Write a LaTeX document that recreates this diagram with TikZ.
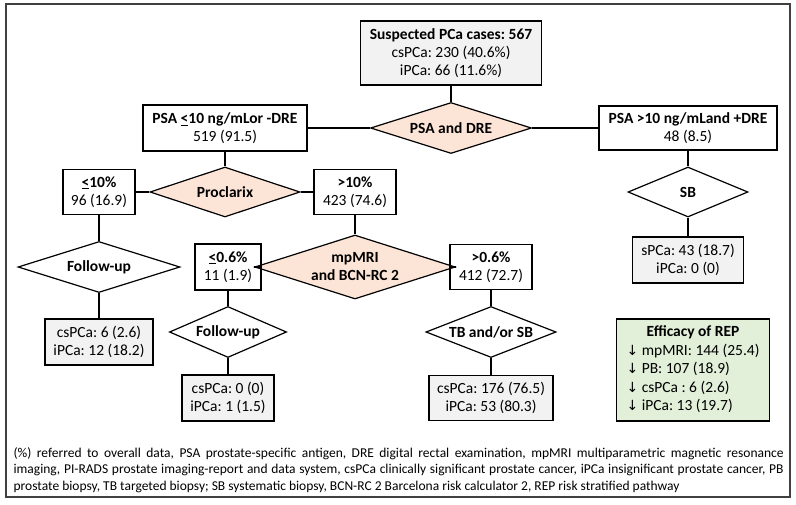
\documentclass[tikz,border=0pt]{standalone}
\usepackage{fontspec}
\setmainfont{Carlito}
\newfontfamily\arrowfont{DejaVu Sans}
\usetikzlibrary{shapes.geometric}
\definecolor{peach}{HTML}{FCE4D6}
\definecolor{lightgrey}{HTML}{F2F2F2}
\definecolor{palegreen}{HTML}{E2F0D9}
\newcommand{\ule}{\underline{<}}
\newcommand{\dn}{{\arrowfont\fontsize{14}{18}\selectfont\char"2193}}
\frenchspacing

\begin{document}
\begin{tikzpicture}
[x=1pt, y=-1pt, font=\fontsize{15.5}{18}\selectfont, line width=1.2pt,
stepbox/.style={rectangle, draw, align=center, inner sep=1pt},
result/.style={stepbox, fill=lightgrey},
test/.style={diamond, draw, aspect=4, inner sep=0pt, align=center,
    font=\fontsize{15.5}{18}\selectfont\bfseries},
keytest/.style={test, fill=peach}]

\useasboundingbox (0,0) rectangle (796,504);
\draw[line width=1.5pt, black!75] (6,4) rectangle (790,497);

\node[result, minimum width=181, minimum height=64] (cases) at (451,53)
    {\textbf{Suspected PCa cases: 567}\\csPCa: 230 (40.6\%)\\iPCa: 66 (11.6\%)};
\node[keytest, minimum width=161, minimum height=51] (psadre) at (451,128) {PSA and DRE};
\node[stepbox, minimum width=164, minimum height=46] (lowpsa) at (225,128)
    {\textbf{PSA \ule10 ng/mLor -DRE}\\519 (91.5)};
\node[stepbox, minimum width=178, minimum height=44] (highpsa) at (688,128)
    {\textbf{PSA >10 ng/mLand +DRE}\\48 (8.5)};

\node[keytest, minimum width=150, minimum height=50] (proclarix) at (225,192) {Proclarix};
\node[stepbox, minimum width=72, minimum height=45] (lowpro) at (99,192)
    {\textbf{\ule10\%}\\96 (16.9)};
\node[stepbox, minimum width=82, minimum height=45] (highpro) at (355,192)
    {\textbf{>10\%}\\423 (74.6)};

\node[test, minimum width=162, minimum height=51] (fup1) at (99,267) {Follow-up};
\node[result, minimum width=108, minimum height=46] (res1) at (99,342)
    {csPCa: 6 (2.6)\\iPCa: 12 (18.2)};

\node[keytest, minimum width=164, minimum height=64] (mri) at (355,267) {mpMRI\\and BCN-RC 2};
\node[stepbox, minimum width=66, minimum height=46] (lowrisk) at (228,267)
    {\textbf{\ule0.6\%}\\11 (1.9)};
\node[stepbox, minimum width=82, minimum height=45] (highrisk) at (491,267)
    {\textbf{>0.6\%}\\412 (72.7)};

\node[test, minimum width=117, minimum height=51] (fup2) at (228,332) {Follow-up};
\node[result, minimum width=92, minimum height=46] (res2) at (228,398)
    {csPCa: 0 (0)\\iPCa: 1 (1.5)};
\node[test, minimum width=123, minimum height=51] (tbsb) at (491,332) {TB and/or SB};
\node[result, minimum width=124, minimum height=45] (res3) at (491,398)
    {csPCa: 176 (76.5)\\iPCa: 53 (80.3)};

\node[test, minimum width=120, minimum height=50] (sb) at (688,192) {SB};
\node[result, minimum width=111, minimum height=46] (res4) at (688,260)
    {sPCa: 43 (18.7)\\iPCa: 0 (0)};

\node[stepbox, fill=palegreen, minimum width=153, minimum height=102,
    font=\fontsize{15.5}{18.5}\selectfont] (efficacy) at (693,370)
    {\begin{tabular}{@{}l@{}}
     \multicolumn{1}{@{}c@{}}{\textbf{Efficacy of REP}}\\
     \dn{} mpMRI: 144 (25.4)\\
     \dn{} PB: 107 (18.9)\\
     \dn{} csPCa : 6 (2.6)\\
     \dn{} iPCa: 13 (19.7)
     \end{tabular}};

\draw (cases) -- (psadre);
\draw (lowpsa) -- (psadre) -- (highpsa);
\draw (lowpsa) -- (proclarix);
\draw (lowpro) -- (proclarix) -- (highpro);
\draw (lowpro) -- (fup1) -- (res1);
\draw (highpro) -- (mri);
\draw (lowrisk) -- (mri) -- (highrisk);
\draw (lowrisk) -- (fup2) -- (res2);
\draw (highrisk) -- (tbsb) -- (res3);
\draw (highpsa) -- (sb) -- (res4);

\node[anchor=west, text width=770, align=justify, inner sep=0pt,
    font=\fontsize{13.5}{16.5}\selectfont] (notes) at (13,470)
    {(\%) referred to overall data, PSA prostate-specific antigen, DRE digital rectal examination, mpMRI multiparametric magnetic resonance\linebreak
     imaging, PI-RADS prostate imaging-report and data system, csPCa clinically significant prostate cancer, iPCa insignificant prostate cancer, PB\linebreak
     prostate biopsy, TB targeted biopsy; SB systematic biopsy, BCN-RC 2 Barcelona risk calculator 2, REP risk stratified pathway};

\end{tikzpicture}
\end{document}
